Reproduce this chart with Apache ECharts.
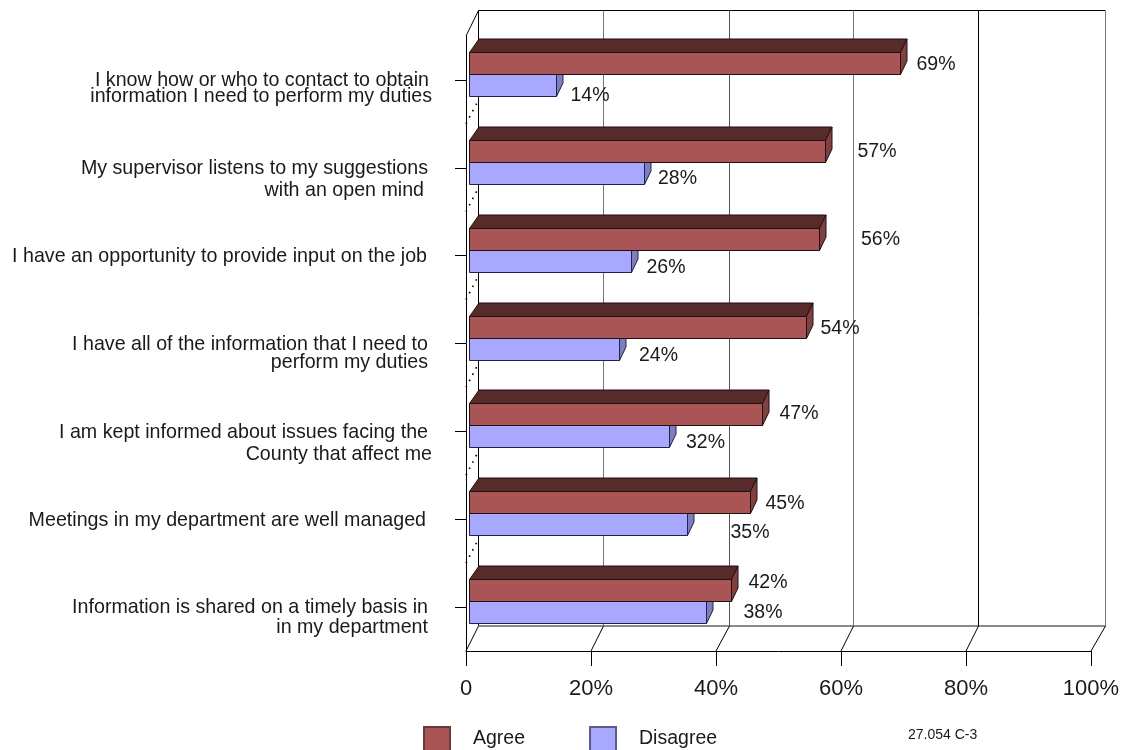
<!DOCTYPE html>
<html><head><meta charset="utf-8">
<style>html,body{margin:0;padding:0;background:#fff}#c{width:1124px;height:750px}</style>
<script src="https://cdn.jsdelivr.net/npm/echarts@6/dist/echarts.min.js"></script>
</head><body><div id="c"></div>
<script>
// ---- data ----
const categories = [
  ["I know how or who to contact to obtain", "information I need to perform my duties"],
  ["My supervisor listens to my suggestions", "with an open mind"],
  ["I have an opportunity to provide input on the job"],
  ["I have all of the information that I need to", "perform my duties"],
  ["I am kept informed about issues facing the", "County that affect me"],
  ["Meetings in my department are well managed"],
  ["Information is shared on a timely basis in", "in my department"]
];
const agree = [69, 57, 56, 54, 47, 45, 42];
const disagree = [14, 28, 26, 24, 32, 35, 38];
const ticks = [0, 20, 40, 60, 80, 100];

// ---- layout of hand-placed labels (pixel nudges, as in the original chart) ----
const agreeLabelNudge = [[16,-15.5],[32,-16.5],[41.5,-16.5],[14,-15],[17,-18],[15,-16],[17,-24.5]];
const disagreeLabelNudge = [[14,15.5],[13.5,10.5],[15,12],[19.5,12],[16.5,11],[43,13],[37,5.5]];
const catLineLayout = [
  [[429,1],[432,17]], [[428,1],[424,23]], [[427,1]], [[428,1],[428,19]],
  [[428,1],[432,23]], [[426,1]], [[428,1],[428,20.5]]
];
const tickLineColor = {0:'#000',20:'#777',40:'#555',60:'#777',80:'#000',100:'#777'};
const backWallShift = {0:12.5,20:12.5,40:13.5,60:12.5,80:12.5,100:14.5};

const FONT = '"Liberation Sans", Arial, sans-serif';
const INK = '#1a1a1a';
const BAR_X = 3.5, DX = 6.5, DY = -13.5, H = 22;

function barItem(values, nudges, colors, yOff) {
  return function (params, api) {
    const i = api.value(1), v = api.value(0);
    const p = api.coord([v, i]), o = api.coord([0, i]);
    const x0 = o[0] + BAR_X, x1 = Math.round(p[0] + BAR_X) - 0.5;
    const yt = Math.round(p[1] + yOff) + 0.5, yb = yt + H;
    const line = {stroke: colors.line, lineWidth: 1};
    const kids = [
      {type:'polygon', shape:{points:[[x0,yt],[x0+9.5,yt+DY],[x1+DX,yt+DY],[x1,yt]]},
       style:Object.assign({fill:colors.top}, line)},
      {type:'polygon', shape:{points:[[x1,yt],[x1+DX,yt+DY],[x1+DX,yb+DY],[x1,yb]]},
       style:Object.assign({fill:colors.side}, line)},
      {type:'rect', shape:{x:x0,y:yt,width:x1-x0,height:H},
       style:Object.assign({fill:colors.front}, line)},
      {type:'text', style:{text:v+'%', x:x1+nudges[i][0], y:p[1]+nudges[i][1],
        fill:INK, fontSize:19.5, fontFamily:FONT, align:'left', verticalAlign:'middle'}}
    ];
    return {type:'group', children:kids};
  };
}

const option = {
  animation:false,
  backgroundColor:'#fff',
  textStyle:{fontFamily:FONT},
  title:{text:'27.054 C-3', left:903, top:723,
    textStyle:{fontSize:14,fontWeight:'normal',color:INK,fontFamily:FONT}},
  legend:{left:418, top:721, itemWidth:26, itemHeight:24, itemGap:64, icon:'rect',
    data:['Agree','Disagree'],
    textStyle:{fontSize:19.5,color:INK,fontFamily:FONT,padding:[2,0,0,18]}},
  grid:{left:466, top:36, width:625, height:615, containLabel:false},
  xAxis:{type:'value', min:0, max:100, interval:20,
    axisLine:{show:true,lineStyle:{color:'#000',width:1}},
    axisTick:{show:true,length:15,lineStyle:{color:'#000',width:1}},
    splitLine:{show:false},
    axisLabel:{fontSize:22,color:INK,fontFamily:FONT,margin:27,showMinLabel:true,showMaxLabel:true,
      formatter:v=>v===0?'0':v+'%'}},
  yAxis:{type:'category', inverse:true, data:categories.map(c=>c.join(' ')),
    axisLine:{show:true,lineStyle:{color:'#000',width:1}},
    axisTick:{show:true,alignWithLabel:true,length:11,lineStyle:{color:'#000',width:1}},
    axisLabel:{show:false}},
  series:[
    {type:'custom', name:'frame', z:1, silent:true, clip:false, coordinateSystem:'cartesian2d',
     data:ticks.map(t=>[t,0]),
     renderItem(params,api){
       const v=api.value(0), f=api.coord([v,0]);
       const gridTop=api.coord([0,0])[1]-api.size([0,1])[1]/2;
       const gridBot=gridTop+api.size([0,1])[1]*categories.length;
       const dx=backWallShift[v], backX=f[0]+dx, topY=10.5, backBot=gridBot-25;
       const kids=[
         {type:'line',shape:{x1:backX,y1:topY,x2:backX,y2:backBot},style:{stroke:tickLineColor[v],lineWidth:1}},
         {type:'line',shape:{x1:f[0],y1:gridBot,x2:backX,y2:backBot},style:{stroke:'#000',lineWidth:1}}
       ];
       if(v===0){
         const fr=api.coord([100,0])[0]+14.5;
         kids.push(
           {type:'line',shape:{x1:backX,y1:topY,x2:fr,y2:topY},style:{stroke:'#000',lineWidth:1}},
           {type:'line',shape:{x1:backX,y1:backBot,x2:fr,y2:backBot},style:{stroke:'#666',lineWidth:1.5}},
           {type:'line',shape:{x1:f[0],y1:gridTop,x2:backX,y2:topY},style:{stroke:'#000',lineWidth:1}}
         );
       }
       return {type:'group',children:kids};
     }},
    {type:'custom', name:'wall', z:1, silent:true, clip:false, coordinateSystem:'cartesian2d',
     data:categories.slice(0,-1).map((c,i)=>[0,i]),
     renderItem(params,api){
       const p=api.coord([0,api.value(1)]), h=api.size([0,1])[1]/2, y=p[1]+h;
       return {type:'line',shape:{x1:p[0],y1:y,x2:p[0]+13,y2:y-25},
         style:{stroke:'#000',lineWidth:1.6,lineDash:[1.6,5.5]}};
     }},
    {type:'custom', name:'catLabels', z:5, silent:true, clip:false, coordinateSystem:'cartesian2d',
     data:categories.map((c,i)=>[0,i]),
     renderItem(params,api){
       const i=api.value(1), yc=api.coord([0,i])[1];
       return {type:'group',children:categories[i].map((t,k)=>({type:'text',
         style:{text:t,x:catLineLayout[i][k][0],y:yc+catLineLayout[i][k][1],fill:INK,fontSize:19.65,
           fontFamily:FONT,align:'right',verticalAlign:'middle'}}))};
     }},
    {type:'custom', name:'Disagree', z:3, clip:false, coordinateSystem:'cartesian2d',
     itemStyle:{color:'#a8a8ff',borderColor:'#5a5a8c',borderWidth:1},
     data:disagree.map((v,i)=>[v,i]),
     renderItem:barItem(disagree,disagreeLabelNudge,{front:'#a8a8ff',top:'#6f6fb0',side:'#7e7ebf',line:'#22224a'},-6)},
    {type:'custom', name:'Agree', z:4, clip:false, coordinateSystem:'cartesian2d',
     itemStyle:{color:'#aa5555',borderColor:'#6a3a3a',borderWidth:1},
     data:agree.map((v,i)=>[v,i]),
     renderItem:barItem(agree,agreeLabelNudge,{front:'#aa5555',top:'#582b2b',side:'#804040',line:'#1f1010'},-28)}
  ]
};
echarts.init(document.getElementById('c'),null,{renderer:'canvas'}).setOption(option);
</script></body></html>
